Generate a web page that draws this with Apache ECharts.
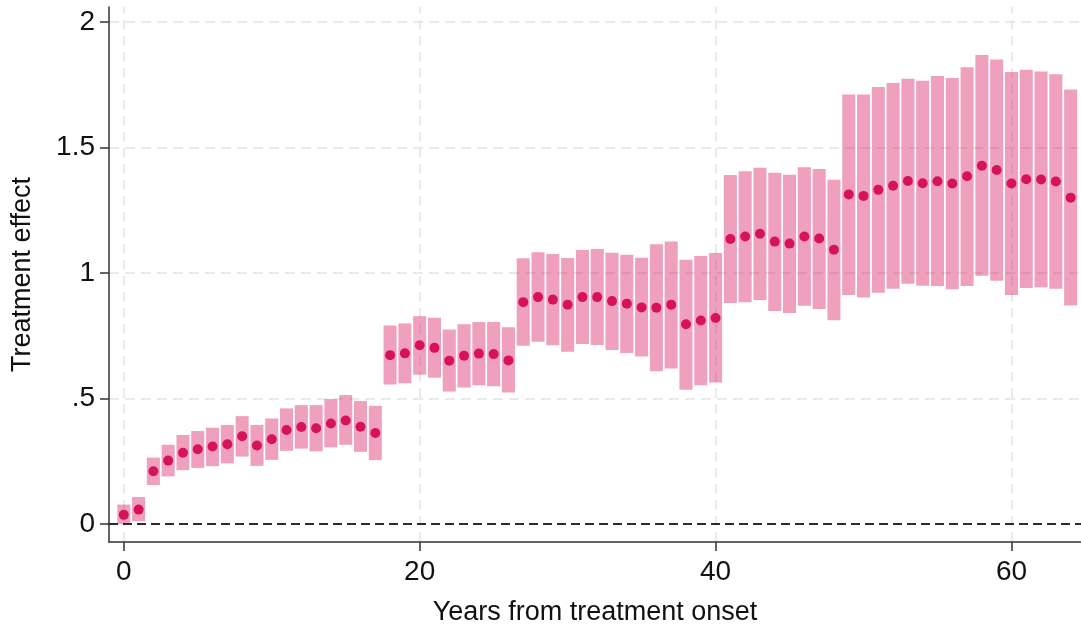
<!DOCTYPE html>
<html>
<head>
<meta charset="utf-8">
<script src="https://cdn.jsdelivr.net/npm/echarts@6/dist/echarts.min.js"></script>
<style>
  html, body { margin: 0; padding: 0; background: #ffffff; }
  #chart { width: 1081px; height: 631px; }
</style>
</head>
<body>
<div id="chart"></div>
<script>
// years from onset, point estimate, and CI bounds
const years = [0, 1, 2, 3, 4, 5, 6, 7, 8, 9, 10, 11, 12, 13, 14, 15, 16, 17, 18, 19, 20,
  21, 22, 23, 24, 25, 26, 27, 28, 29, 30, 31, 32, 33, 34, 35, 36, 37, 38, 39, 40,
  41, 42, 43, 44, 45, 46, 47, 48, 49, 50, 51, 52, 53, 54, 55, 56, 57, 58, 59, 60,
  61, 62, 63, 64]
const effect = [0.037, 0.058, 0.211, 0.253, 0.284, 0.298, 0.309, 0.318, 0.350, 0.313, 0.338,
  0.375, 0.387, 0.382, 0.401, 0.413, 0.388, 0.363, 0.673, 0.680, 0.712,
  0.702, 0.651, 0.671, 0.679, 0.677, 0.652, 0.884, 0.904, 0.894, 0.874,
  0.904, 0.904, 0.888, 0.878, 0.863, 0.862, 0.874, 0.796, 0.811, 0.821,
  1.135, 1.145, 1.156, 1.125, 1.117, 1.145, 1.137, 1.093, 1.313, 1.307,
  1.331, 1.347, 1.366, 1.357, 1.365, 1.356, 1.385, 1.427, 1.410, 1.356,
  1.373, 1.372, 1.364, 1.300]
const ciLow = [0.000, 0.012, 0.156, 0.190, 0.215, 0.224, 0.231, 0.242, 0.269, 0.232, 0.256,
  0.292, 0.301, 0.290, 0.306, 0.316, 0.288, 0.255, 0.556, 0.561, 0.595,
  0.583, 0.528, 0.544, 0.553, 0.549, 0.524, 0.710, 0.726, 0.712, 0.686,
  0.717, 0.713, 0.693, 0.681, 0.668, 0.609, 0.620, 0.535, 0.553, 0.564,
  0.881, 0.884, 0.892, 0.849, 0.841, 0.870, 0.857, 0.812, 0.912, 0.902,
  0.921, 0.937, 0.957, 0.949, 0.948, 0.935, 0.948, 0.989, 0.969, 0.912,
  0.940, 0.943, 0.937, 0.871]
const ciHigh = [0.078, 0.108, 0.265, 0.316, 0.355, 0.371, 0.384, 0.395, 0.430, 0.395, 0.421,
  0.461, 0.474, 0.474, 0.498, 0.514, 0.490, 0.471, 0.791, 0.799, 0.828,
  0.822, 0.775, 0.796, 0.805, 0.805, 0.784, 1.059, 1.083, 1.076, 1.060,
  1.092, 1.096, 1.081, 1.073, 1.061, 1.114, 1.125, 1.053, 1.068, 1.080,
  1.390, 1.405, 1.419, 1.399, 1.391, 1.421, 1.414, 1.371, 1.711, 1.711,
  1.740, 1.756, 1.773, 1.765, 1.784, 1.776, 1.819, 1.868, 1.850, 1.800,
  1.809, 1.802, 1.791, 1.731]

const xTickValues = [0, 20, 40, 60]
const yTickValues = [0, 0.5, 1, 1.5, 2]
const yTickLabels = ['0', '.5', '1', '1.5', '2']

const DOT_COLOR = '#d6125a'
const BAND_COLOR = 'rgba(214, 18, 90, 0.4)'
const FONT = "'Liberation Sans', Arial, sans-serif"

const chart = echarts.init(document.getElementById('chart'), null, { renderer: 'canvas' })

// dashed light grid at the labelled ticks (the zero line is drawn separately)
const gridLines = [
  ...yTickValues.filter((v) => v !== 0).map((v) => ({ yAxis: v })),
  ...xTickValues.map((v) => ({ xAxis: v }))
]

chart.setOption({
  backgroundColor: '#ffffff',
  animation: false,
  grid: { left: 109, right: 0, top: 7, bottom: 86, containLabel: false },
  xAxis: {
    type: 'value',
    min: -1,
    max: 64.7,
    name: 'Years from treatment onset',
    nameLocation: 'middle',
    nameGap: 57,
    nameTextStyle: { fontFamily: FONT, fontSize: 27, color: '#111' },
    axisLine: { onZero: false, lineStyle: { color: '#333', width: 1.5 } },
    axisTick: { length: 9, customValues: xTickValues, lineStyle: { color: '#333', width: 1.5 } },
    axisLabel: {
      customValues: xTickValues,
      margin: 16,
      fontFamily: FONT,
      fontSize: 28,
      color: '#111'
    },
    splitLine: { show: false }
  },
  yAxis: {
    type: 'value',
    min: -0.071,
    max: 2.059,
    name: 'Treatment effect',
    nameLocation: 'middle',
    nameGap: 73,
    nameRotate: 90,
    nameTextStyle: { fontFamily: FONT, fontSize: 27, color: '#111' },
    axisLine: { show: true, onZero: false, lineStyle: { color: '#333', width: 1.5 } },
    axisTick: { show: true, length: 9, customValues: yTickValues, lineStyle: { color: '#333', width: 1.5 } },
    axisLabel: {
      customValues: yTickValues,
      margin: 14,
      fontFamily: FONT,
      fontSize: 28,
      color: '#111',
      formatter: (value) => yTickLabels[yTickValues.indexOf(Number(value))] ?? ''
    },
    splitLine: { show: false }
  },
  series: [
    {
      type: 'line',
      data: [],
      z: 0,
      silent: true,
      markLine: {
        z: 0,
        silent: true,
        symbol: ['none', 'none'],
        label: { show: false },
        lineStyle: { color: '#e4e4e4', width: 1.5, type: [10, 6] },
        data: gridLines
      }
    },
    {
      name: 'CI',
      type: 'custom',
      z: 2,
      clip: false,
      data: years.map((year, i) => [year, ciLow[i], ciHigh[i]]),
      encode: { x: 0, y: [1, 2] },
      renderItem: (params, api) => {
        const year = api.value(0)
        const top = api.coord([year, api.value(2)])
        const bottom = api.coord([year, api.value(1)])
        const width = api.size([1, 0])[0] * 0.88
        return {
          type: 'rect',
          shape: { x: top[0] - width / 2, y: top[1], width, height: bottom[1] - top[1] },
          style: { fill: BAND_COLOR }
        }
      }
    },
    {
      name: 'Estimate',
      type: 'scatter',
      z: 4,
      symbolSize: 10,
      itemStyle: { color: DOT_COLOR, opacity: 1 },
      data: years.map((year, i) => [year, effect[i]]),
      markLine: {
        z: 3,
        silent: true,
        symbol: ['none', 'none'],
        label: { show: false },
        lineStyle: { color: '#2b2b2b', width: 2.2, type: [9, 5] },
        data: [{ yAxis: 0 }]
      }
    }
  ]
})
</script>
</body>
</html>
